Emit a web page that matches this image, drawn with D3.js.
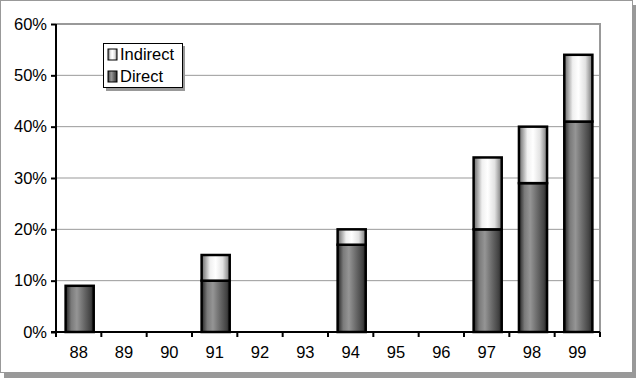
<!DOCTYPE html>
<html>
<head>
<meta charset="utf-8">
<script src="https://cdn.jsdelivr.net/npm/d3@7"></script>
<style>
  body { margin: 0; background: #fff; }
  svg { display: block; font-family: "Liberation Sans", Arial, sans-serif; }
</style>
</head>
<body>
<svg width="637" height="387"></svg>
<script>
// data
var years = ['88', '89', '90', '91', '92', '93', '94', '95', '96', '97', '98', '99']
var direct = [9, 0, 0, 10, 0, 0, 17, 0, 0, 20, 29, 41]
var indirect = [0, 0, 0, 5, 0, 0, 3, 0, 0, 14, 11, 13]
var yTicks = [0, 10, 20, 30, 40, 50, 60]

var svg = d3.select('svg')
var margin = {left: 56, top: 24, right: 600, bottom: 332}
var fontSize = 16.5

// gradients for the cylinder look
var defs = svg.append('defs')
function grad(id, stops) {
    var g = defs.append('linearGradient').attr('id', id)
        .attr('x1', '0%').attr('x2', '100%').attr('y1', '0%').attr('y2', '0%')
    stops.forEach(function(s) {
        g.append('stop').attr('offset', s[0]).attr('stop-color', s[1])
    })
}
grad('gDirect', [['0%', '#222'], ['20%', '#7a7a7a'], ['40%', '#959595'], ['65%', '#6a6a6a'], ['88%', '#444'], ['100%', '#222']])
grad('gIndirect', [['0%', '#666'], ['30%', '#f0f0f0'], ['50%', '#ffffff'], ['75%', '#e2e2e2'], ['100%', '#777']])

// outer frame with shadow
svg.append('rect').attr('x', 4).attr('y', 5).attr('width', 632).attr('height', 373).attr('fill', '#999')
svg.append('rect').attr('x', 0.5).attr('y', 0.5).attr('width', 632).attr('height', 372)
    .attr('fill', '#fff').attr('stroke', '#999').attr('stroke-width', 1)

var x = d3.scaleBand().domain(years).range([margin.left, margin.right]).paddingInner(0.38).paddingOuter(0.19)
var y = d3.scaleLinear().domain([0, 60]).range([margin.bottom, margin.top])

// grid lines
svg.selectAll('.grid').data(yTicks.slice(1, -1)).enter().append('line')
    .attr('x1', margin.left).attr('x2', margin.right)
    .attr('y1', function(d) { return y(d) }).attr('y2', function(d) { return y(d) })
    .attr('stroke', '#999').attr('stroke-width', 1)

// plot border top & right
svg.append('path')
    .attr('d', 'M' + margin.left + ',' + margin.top + 'H' + margin.right + 'V' + margin.bottom)
    .attr('fill', 'none').attr('stroke', '#999').attr('stroke-width', 2)

// bars
var bw = x.bandwidth()
var groups = svg.selectAll('.bar').data(years).enter().append('g')
    .attr('transform', 'translate(1,0)')
groups.filter(function(d, i) { return direct[i] > 0 }).append('rect')
    .attr('x', function(d) { return x(d) })
    .attr('y', function(d) { var i = years.indexOf(d); return y(direct[i]) })
    .attr('width', bw)
    .attr('height', function(d) { var i = years.indexOf(d); return y(0) - y(direct[i]) })
    .attr('fill', 'url(#gDirect)').attr('stroke', '#000').attr('stroke-width', 2.5)
groups.filter(function(d, i) { return indirect[i] > 0 }).append('rect')
    .attr('x', function(d) { return x(d) })
    .attr('y', function(d) { var i = years.indexOf(d); return y(direct[i] + indirect[i]) })
    .attr('width', bw)
    .attr('height', function(d) { var i = years.indexOf(d); return y(direct[i]) - y(direct[i] + indirect[i]) })
    .attr('fill', 'url(#gIndirect)').attr('stroke', '#000').attr('stroke-width', 2.5)

// y axis
var yAxis = svg.append('g').attr('transform', 'translate(' + margin.left + ',0)')
    .call(d3.axisLeft(y).tickValues(yTicks).tickSize(5).tickPadding(4).tickFormat(function(d) { return d + '%' }))
yAxis.select('.domain').attr('stroke-width', 2).attr('d', 'M0,' + margin.top + 'V' + (margin.bottom + 1))
yAxis.selectAll('.tick line').attr('stroke-width', 2)
yAxis.selectAll('text').attr('font-size', fontSize).attr('fill', '#000').attr('font-family', '"Liberation Sans", Arial, sans-serif')

// x axis
var xAxis = svg.append('g').attr('transform', 'translate(0,' + margin.bottom + ')')
    .call(d3.axisBottom(x).tickSize(0).tickPadding(14))
xAxis.select('.domain').attr('stroke-width', 2).attr('d', 'M' + (margin.left - 5) + ',0H' + margin.right)
xAxis.selectAll('text').attr('font-size', fontSize).attr('fill', '#000').attr('font-family', '"Liberation Sans", Arial, sans-serif')
var bounds = d3.range(years.length + 1).map(function(i) { return margin.left + (margin.right - margin.left) * i / years.length })
xAxis.selectAll('.xt').data(bounds).enter().append('line')
    .attr('x1', function(d) { return d }).attr('x2', function(d) { return d })
    .attr('y1', 0).attr('y2', 5).attr('stroke', '#000').attr('stroke-width', 2)

// legend
var lg = svg.append('g').attr('transform', 'translate(103,43)')
lg.append('rect').attr('x', 3).attr('y', 3).attr('width', 79).attr('height', 45).attr('fill', '#999')
lg.append('rect').attr('x', 0.5).attr('y', 0.5).attr('width', 79).attr('height', 44).attr('fill', '#fff').attr('stroke', '#000')
var items = [['Indirect', 'url(#gIndirect)'], ['Direct', 'url(#gDirect)']]
items.forEach(function(it, i) {
    lg.append('rect').attr('x', 5).attr('y', 6 + i * 22).attr('width', 9).attr('height', 11)
        .attr('fill', it[1]).attr('stroke', '#000').attr('stroke-width', 1)
    lg.append('text').attr('x', 17).attr('y', 17 + i * 22).attr('font-size', fontSize).text(it[0])
})
</script>
</body>
</html>
